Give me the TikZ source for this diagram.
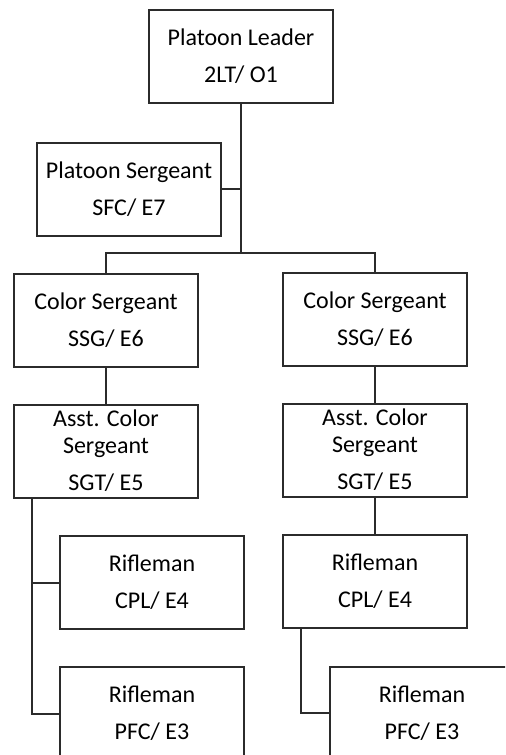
\documentclass[tikz,border=0pt]{standalone}
\usepackage{fontspec}
\setmainfont{Carlito}
\definecolor{ink}{HTML}{2B2B2B}

\begin{document}
\begin{tikzpicture}[x=0.5pt, y=-0.5pt,
    rank/.style={rectangle, draw=ink, line width=1pt, minimum width=92pt, minimum height=46.5pt, inner sep=0pt, align=center, text=black, font=\fontsize{12}{13.5}\selectfont},
    link/.style={draw=ink, line width=1pt}
]
\useasboundingbox (0,0) rectangle (505,755);
\clip (0,0) rectangle (505,755);

\node[rank] (leader) at (241,56.5) {Platoon Leader\\[5pt]2LT/ O1};
\node[rank] (psg) at (129,189) {Platoon Sergeant\\[5pt]SFC/ E7};

\node[rank] (csl) at (106,320) {Color Sergeant\\[5pt]SSG/ E6};
\node[rank] (csr) at (375,319) {Color Sergeant\\[5pt]SSG/ E6};

\node[rank] (acl) at (106,451) {Asst. Color\\Sergeant\\[5pt]SGT/ E5};
\node[rank] (acr) at (375,450) {Asst. Color\\Sergeant\\[5pt]SGT/ E5};

\node[rank] (rl1) at (152,582.5) {Rifleman\\[5pt]CPL/ E4};
\node[rank] (rl2) at (152,713.5) {Rifleman\\[5pt]PFC/ E3};
\node[rank] (rr1) at (375,581.5) {Rifleman\\[5pt]CPL/ E4};
\node[rank] (rr2) at (422,713) {Rifleman\\[5pt]PFC/ E3};

\coordinate (split) at (241,253);
\draw[link] (leader) -- (split);
\draw[link] (psg) -- (psg -| split);
\draw[link] (csl) |- (split) -| (csr);

\draw[link] (csl) -- (acl);
\draw[link] (csr) -- (acr);
\draw[link] (acr) -- (rr1);

\draw[link] ([xshift=9.5pt]acl.south west) |- (rl1);
\draw[link] ([xshift=9.5pt]acl.south west) |- (rl2);
\draw[link] ([xshift=9.5pt]rr1.south west) |- (rr2);
\end{tikzpicture}
\end{document}
